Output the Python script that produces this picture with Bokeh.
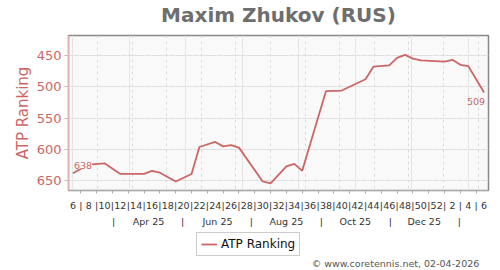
from datetime import date
from bokeh.plotting import figure
from bokeh.layouts import column
from bokeh.models import (Range1d, FixedTicker, LinearAxis, Label, Legend,
                          LegendItem, Grid, ColumnDataSource)
from bokeh.embed import file_html
from bokeh.resources import INLINE

# ---------------- data ----------------
title_text = "Maxim Zhukov (RUS)"
series_name = "ATP Ranking"
footer_text = "\u00a9 www.coretennis.net, 02-04-2026"

# weeks since the first ranking in the window (week 6 of 2025)
week_offset = [0, 2, 4, 6, 9, 10, 11, 13, 15, 16, 18, 19, 20, 21, 24, 25,
               27, 28, 29, 32, 34, 37, 38, 40, 41, 42, 43, 44, 47, 48, 49, 50, 52]
ranking = [638, 624, 622, 639, 639, 634, 637, 651, 639, 596, 588, 595, 593,
           597, 651, 654, 627, 623, 634, 507, 506, 488, 468, 466, 454, 449,
           455, 458, 460, 457, 465, 467, 509]

week_tick_labels = [6, 8, 10, 12, 14, 16, 18, 20, 22, 24, 26, 28, 30, 32, 34,
                    36, 38, 40, 42, 44, 46, 48, 50, 52, 2, 4, 6]
y_ticks = [450, 500, 550, 600, 650]
month_labels = ["Apr 25", "Jun 25", "Aug 25", "Oct 25", "Dec 25"]
month_label_dates = [date(2025, 4, 15), date(2025, 6, 15), date(2025, 8, 15),
                     date(2025, 10, 15), date(2025, 12, 15)]
month_sep_dates = [date(2025, 3, 15), date(2025, 5, 15), date(2025, 7, 15),
                   date(2025, 9, 15), date(2025, 11, 15), date(2026, 1, 15)]
month_grid_dates = [date(2025, m, 1) for m in range(3, 13)] + \
                   [date(2026, 1, 1), date(2026, 2, 1)]
first_date = date(2025, 2, 7)

# ---------------- styling ----------------
RED = "#cc6666"
FONT = "DejaVu Sans"
W = 500
H_TOP, H_MAIN, H_BOT = 33, 197, 40


def day(d):
    return (d - first_date).days


def blank_fig(h):
    f = figure(width=W, height=h, output_backend="svg", toolbar_location=None,
               x_range=Range1d(0, W), y_range=Range1d(0, h),
               x_axis_location=None, y_axis_location=None,
               min_border=0, outline_line_color=None)
    f.grid.visible = False
    f.background_fill_color = "white"
    f.border_fill_color = "white"
    return f


# ---------- title strip ----------
p0 = blank_fig(H_TOP)
p0.add_layout(Label(x=W / 2, y=H_TOP - 14, text=title_text, text_align="center",
                    text_baseline="middle", text_color="#6e6e6e", text_font=FONT,
                    text_font_size="20px", text_font_style="bold"))

# ---------- main chart ----------
xs = [7 * w for w in week_offset]
src = ColumnDataSource(dict(x=xs, y=ranking))

p = figure(width=W, height=H_MAIN, output_backend="svg", toolbar_location=None,
           x_range=Range1d(-3.9, 367.9), y_range=Range1d(665.4, 418.2),
           x_axis_location=None, y_axis_location=None,
           min_border_left=68, min_border_right=12, min_border_top=2,
           min_border_bottom=40)
p.background_fill_color = "#f9f9f9"
p.border_fill_color = "white"
p.outline_line_color = "#888888"
p.outline_line_width = 1.5

p.add_layout(Grid(dimension=0, ticker=FixedTicker(ticks=[day(d) for d in month_grid_dates]),
                  grid_line_color="#dcdcdc", grid_line_dash="3 3"))
p.add_layout(Grid(dimension=1, ticker=FixedTicker(ticks=y_ticks),
                  grid_line_color="#dcdcdc", grid_line_dash="3 3"))

spacer_l = LinearAxis(ticker=FixedTicker(ticks=[]), axis_line_color=None,
                      major_tick_out=5, major_tick_in=0, major_tick_line_color=None,
                      minor_tick_line_color=None, major_label_text_font_size="0px",
                      major_label_standoff=0)
p.add_layout(spacer_l, "left")
yaxis = LinearAxis(ticker=FixedTicker(ticks=y_ticks), axis_label=series_name,
                   axis_line_color="#e0b0b0", major_tick_line_color="#e0b0b0",
                   major_tick_out=4, major_tick_in=0, minor_tick_line_color=None,
                   major_label_text_color=RED, major_label_text_font=FONT,
                   major_label_text_font_size="13px", major_label_standoff=3,
                   axis_label_text_color=RED, axis_label_text_font=FONT,
                   axis_label_text_font_size="15px", axis_label_text_font_style="normal",
                   axis_label_standoff=2)
p.add_layout(yaxis, "left")

spacer_b = LinearAxis(ticker=FixedTicker(ticks=[]), axis_line_color=None,
                      major_tick_out=5, major_tick_in=0, major_tick_line_color=None,
                      minor_tick_line_color=None, major_label_text_font_size="0px",
                      major_label_standoff=0)
p.add_layout(spacer_b, "below")

week_ticks = list(range(0, 365, 7))
overrides = {}
for i, t in enumerate(week_ticks):
    overrides[t] = str(week_tick_labels[i // 2]) if i % 2 == 0 else "|"
waxis = LinearAxis(ticker=FixedTicker(ticks=week_ticks, minor_ticks=week_ticks[1::2]),
                   major_label_overrides=overrides,
                   axis_line_color="#aaaaaa", major_tick_line_color=None,
                   major_tick_out=3, major_tick_in=0,
                   minor_tick_line_color="#aaaaaa", minor_tick_out=3, minor_tick_in=0,
                   major_label_text_color="#333333", major_label_text_font=FONT,
                   major_label_text_font_size="9.5px", major_label_standoff=6)
p.add_layout(waxis, "below")

m_ticks = sorted([day(d) for d in month_label_dates] + [day(d) for d in month_sep_dates])
m_over = {}
for d in month_sep_dates:
    m_over[day(d)] = "|"
for d, lab in zip(month_label_dates, month_labels):
    m_over[day(d)] = lab
maxis = LinearAxis(ticker=FixedTicker(ticks=m_ticks), major_label_overrides=m_over,
                   axis_line_color=None, major_tick_line_color=None,
                   minor_tick_line_color=None, major_tick_out=0, major_tick_in=0,
                   major_label_text_color="#333333", major_label_text_font=FONT,
                   major_label_text_font_size="9.5px", major_label_standoff=2)
p.add_layout(maxis, "below")

r = p.line("x", "y", source=src, line_color=RED, line_width=1.8)

p.add_layout(Label(x=xs[0], y=ranking[0], text=str(ranking[0]), x_offset=1, y_offset=8,
                   text_baseline="middle", text_align="left", text_color=RED,
                   text_font=FONT, text_font_size="9.5px",
                   background_fill_color="#f9f9f9"))
p.add_layout(Label(x=xs[-1], y=ranking[-1], text=str(ranking[-1]), x_offset=1, y_offset=-9,
                   text_baseline="middle", text_align="right", text_color=RED,
                   text_font=FONT, text_font_size="9.5px"))

# ---------- legend + footer strip ----------
p2 = blank_fig(H_BOT)
# legend swatch renderer: placed outside the visible range of this strip
r2 = p2.line(x=[-20, -10], y=[-20, -20], line_color=RED, line_width=1.8)
legend = Legend(items=[LegendItem(label=series_name, renderers=[r2])],
                location=(128, 14), orientation="horizontal",
                border_line_color="#999999", border_line_width=1,
                background_fill_color="white", padding=4, margin=0,
                glyph_width=16, glyph_height=14, label_standoff=4,
                label_text_font=FONT, label_text_font_size="12px",
                label_text_color="#111111")
p2.add_layout(legend, "center")
p2.add_layout(Label(x=489, y=7, text=footer_text, text_align="right",
                    text_baseline="middle", text_color="#555555", text_font=FONT,
                    text_font_size="9.5px"))

layout = column(p0, p, p2, spacing=0)
open("out.html", "w").write(file_html(layout, INLINE))
